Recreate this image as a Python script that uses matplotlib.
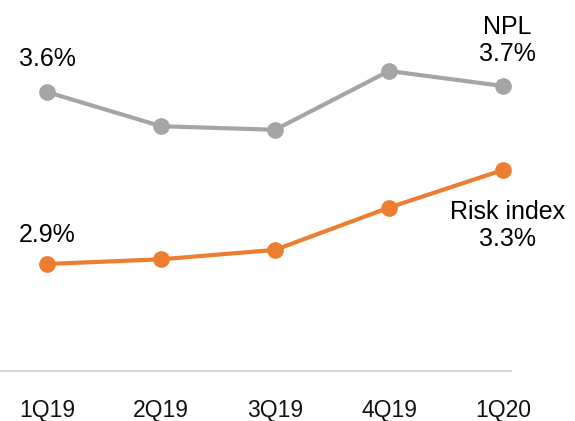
import matplotlib
matplotlib.use("Agg")
import matplotlib.pyplot as plt
from matplotlib import font_manager

quarters = ["1Q19", "2Q19", "3Q19", "4Q19", "1Q20"]
npl = [3.6, 3.03, 2.97, 3.95, 3.7]
risk_index = [2.9, 2.92, 2.96, 3.14, 3.3]

GREY = "#A5A5A5"
ORANGE = "#ED7D31"
BASE = "#D9D9D9"

available = {f.name for f in font_manager.fontManager.ttflist}
family = ["Liberation Sans Narrow", "Liberation Sans", "DejaVu Sans"]
family = [f for f in family if f in available] or ["DejaVu Sans"]
narrow = family[0] == "Liberation Sans Narrow"
plt.rcParams["font.family"] = family

W, H = 575, 421
fig = plt.figure(figsize=(W / 100, H / 100), dpi=100)
base_px = 371
ax = fig.add_axes([0, 1 - base_px / H, 1, base_px / H])
ax2 = ax.twinx()

x = list(range(len(quarters)))
xmin, xmax = -47 / 114, -47 / 114 + W / 114
for a in (ax, ax2):
    a.set_xlim(xmin, xmax)
    a.set_facecolor("none")
    for s in a.spines.values():
        s.set_visible(False)
    a.set_yticks([])

# separate scales for the two series
ax.set_ylim(2.9 - (base_px - 264) / 235, 2.9 + 264 / 235)
ax2.set_ylim(3.6 - (base_px - 92) / 60, 3.6 + 92 / 60)

ax.plot(x, risk_index, color=ORANGE, lw=3, marker="o", ms=11, zorder=3)
ax2.plot(x, npl, color=GREY, lw=3, marker="o", ms=11, zorder=3)

# baseline
ax.spines["bottom"].set_visible(True)
ax.spines["bottom"].set_color(BASE)
ax.spines["bottom"].set_linewidth(1.5)
ax.spines["bottom"].set_bounds(xmin, xmin + 511 / 114)

tick_fs = 18 if narrow else 16.5
fs = 20 if narrow else 18

ax.set_xticks(x)
ax.set_xticklabels(quarters, fontsize=tick_fs, color="#111111")
ax.tick_params(axis="x", length=0, pad=20)

ax2.annotate(f"{npl[0]:.1f}%", (x[0], npl[0]), xytext=(0, 24), textcoords="offset points",
             ha="center", va="center", fontsize=fs)
ax2.annotate(f"NPL\n{npl[-1]:.1f}%", (x[-1], npl[-1]), xytext=(3, 33), textcoords="offset points",
             ha="center", va="center", fontsize=fs, linespacing=1.15)
ax.annotate(f"{risk_index[0]:.1f}%", (x[0], risk_index[0]), xytext=(0, 21), textcoords="offset points",
            ha="center", va="center", fontsize=fs)
ax.annotate(f"Risk index\n{risk_index[-1]:.1f}%", (x[-1], risk_index[-1]), xytext=(3, -40),
            textcoords="offset points", ha="center", va="center", fontsize=fs, linespacing=1.15)

fig.savefig("out.png", dpi=100)
